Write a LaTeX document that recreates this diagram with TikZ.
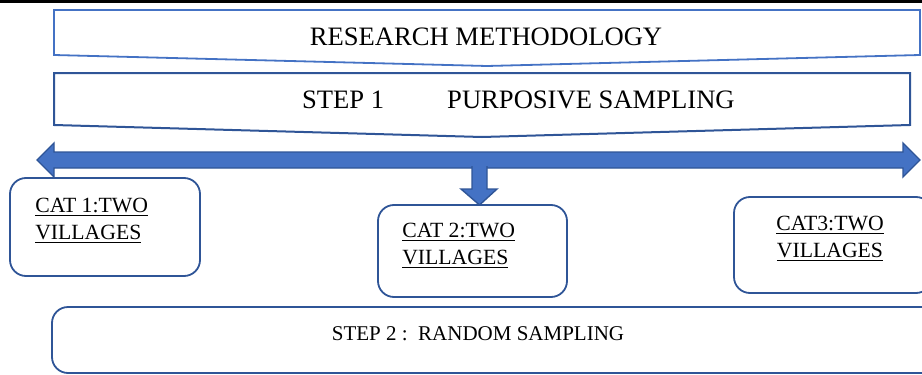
\documentclass[tikz,border=0pt]{standalone}
\usepackage{fontspec}
\setmainfont{Liberation Serif}
\usepackage{xcolor}
\usepackage{tikz}
\usetikzlibrary{positioning}

\definecolor{banner}{HTML}{4472C4}
\definecolor{bannerdark}{HTML}{2F5597}

% underline with a fixed gap and weight
\newsavebox{\ulbox}
\newcommand{\villageline}[1]{\sbox{\ulbox}{#1}\rlap{\rule[-3.5pt]{\wd\ulbox}{1.3pt}}\usebox{\ulbox}}

\begin{document}
\begin{tikzpicture}[x=1pt,y=-1pt]

\tikzstyle{every node}=[inner sep=0pt]
\tikzstyle{catbox}=[draw=bannerdark, line width=1.8, rounded corners=16pt]
\tikzstyle{cattext}=[font=\fontsize{21.7}{27}\selectfont]
\tikzstyle{bigtext}=[font=\fontsize{26.6}{30}\selectfont]
\tikzstyle{blockarrow}=[fill=banner, draw=bannerdark, line width=1.4]

\useasboundingbox (0,0) rectangle (922,375);

% banners %
\fill (0,0) rectangle (922,3);
\draw[banner, line width=1.8] (54,10) -- (920,10) -- (920,55) -- (487,66) -- (54,55) -- cycle;
\draw[bannerdark, line width=2] (54,73) -- (910,73) -- (910,125) -- (482,137) -- (54,125) -- cycle;

% nodes %
\node[bigtext, anchor=base] (title) at (486,45) {RESEARCH METHODOLOGY};
\node[bigtext, anchor=base west] (step1) at (302,108) {STEP 1\hspace{63pt}PURPOSIVE SAMPLING};

\node[catbox, minimum width=190, minimum height=98] (cat1) at (105,227) {};
\node[catbox, minimum width=189, minimum height=92] (cat2) at (472.5,251) {};
\node[catbox, minimum width=198, minimum height=96] (cat3) at (833,245) {};
\node[catbox, minimum width=888, minimum height=66] (step2) at (496,340) {};

\node[cattext, align=left, below right=21pt and 26pt of cat1.north west] (cat1lbl) {\villageline{CAT 1:TWO}\\\villageline{VILLAGES}};
\node[cattext, align=left, below right=19pt and 25pt of cat2.north west] (cat2lbl) {\villageline{CAT 2:TWO}\\\villageline{VILLAGES}};
\node[cattext, align=center, below=20pt of cat3.north, xshift=-3pt] (cat3lbl) {\villageline{CAT3:TWO}\\\villageline{VILLAGES}};
\node[font=\fontsize{21}{25}\selectfont, anchor=base] (step2lbl) at (478,340) {STEP 2 :\ \ RANDOM SAMPLING};

% arrows %
\path[blockarrow] (37,160) -- (54,143) -- (54,152) -- (903,152) -- (903,143) -- (920,160)
  -- (903,177) -- (903,168) -- (54,168) -- (54,177) -- cycle;
\path[blockarrow] (472,166) -- (472,189) -- (461,189) -- (479.5,205) -- (497,189) -- (487,189) -- (487,166);

\end{tikzpicture}
\end{document}
